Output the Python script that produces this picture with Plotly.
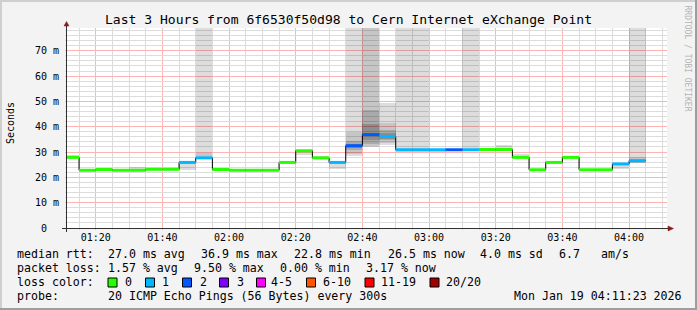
import math
import plotly.graph_objects as go
import pandas as pd
import numpy as np

# ---------------- data ----------------
# interval boundaries (5-minute steps; first one is partial)
bounds = [
    "2026-01-19 01:11:23", "2026-01-19 01:15:00", "2026-01-19 01:20:00", "2026-01-19 01:25:00",
    "2026-01-19 01:30:00", "2026-01-19 01:35:00", "2026-01-19 01:40:00", "2026-01-19 01:45:00",
    "2026-01-19 01:50:00", "2026-01-19 01:55:00", "2026-01-19 02:00:00", "2026-01-19 02:05:00",
    "2026-01-19 02:10:00", "2026-01-19 02:15:00", "2026-01-19 02:20:00", "2026-01-19 02:25:00",
    "2026-01-19 02:30:00", "2026-01-19 02:35:00", "2026-01-19 02:40:00", "2026-01-19 02:45:00",
    "2026-01-19 02:50:00", "2026-01-19 02:55:00", "2026-01-19 03:00:00", "2026-01-19 03:05:00",
    "2026-01-19 03:10:00", "2026-01-19 03:15:00", "2026-01-19 03:20:00", "2026-01-19 03:25:00",
    "2026-01-19 03:30:00", "2026-01-19 03:35:00", "2026-01-19 03:40:00", "2026-01-19 03:45:00",
    "2026-01-19 03:50:00", "2026-01-19 03:55:00", "2026-01-19 04:00:00", "2026-01-19 04:05:00",
]
# median RTT per interval (ms)
median_ms = [27.9, 22.8, 23.1, 22.8, 22.8, 23.2, 23.2, 25.9, 27.7, 23.1,
             22.8, 22.8, 22.8, 25.9, 30.5, 27.7, 25.9, 32.5, 36.9, 36.2,
             30.9, 30.9, 30.9, 30.9, 30.9, 31.0, 31.0, 27.9, 23.0, 25.9,
             27.9, 23.0, 23.0, 25.3, 26.6]
# lost pings (of 20) per interval
loss_count = [0, 0, 0, 0, 0, 0, 0, 1, 1, 0,
              0, 0, 0, 0, 0, 0, 1, 2, 2, 1,
              1, 1, 1, 2, 1, 0, 0, 0, 0, 0,
              0, 0, 0, 1, 1]
N = None
HI = 200.0  # beyond chart top
# smoke layers (outer -> inner), ms
smoke1_lo = [27.6, 22.5, 22.9, 22.6, 22.6, 23.0, 23.0, 23.0, 27.3, 22.8,
             22.5, 22.5, 22.5, 25.6, 28.9, 27.2, 23.3, 28.5, 32.0, 32.9,
             30.2, 30.2, 30.0, 30.5, 30.5, 30.5, 30.5, 27.6, 22.8, 25.7,
             27.6, 22.8, 22.8, 23.4, 25.6]
smoke1_hi = [29.0, 23.1, 23.4, 23.2, 23.9, 23.5, 23.5, 26.4, HI, 23.8,
             23.5, 23.0, 23.0, 26.2, 30.9, 28.4, 26.2, HI, HI, 49.2,
             HI, HI, 31.2, 31.4, HI, 31.7, 32.9, 29.2, 23.3, 26.2,
             28.5, 23.2, 23.2, 25.7, HI]
smoke2_lo = [N, N, N, N, N, N, N, N, 27.4, N,
             N, N, N, N, N, N, N, 29.2, 32.4, 33.7,
             N, N, N, N, N, N, N, N, N, N,
             N, N, N, N, 25.6]
smoke2_hi = [N, N, N, N, N, N, N, N, 29.6, N,
             N, N, N, N, N, N, N, 38.1, HI, 41.5,
             N, N, N, N, N, N, N, N, N, N,
             N, N, N, N, 27.9]
smoke3_lo = [N] * 17 + [30.7, 33.2, 34.7] + [N] * 15
smoke3_hi = [N] * 17 + [34.2, 46.7, 38.7] + [N] * 15
smoke4_lo = [N] * 17 + [31.7, 34.7, 35.2] + [N] * 15
smoke4_hi = [N] * 17 + [33.2, 41.2, 37.7] + [N] * 15

loss_labels = ["0", "1", "2", "3", "4-5", "6-10", "11-19", "20/20"]
loss_palette = ["#26ff00", "#00b8ff", "#0059ff", "#7e00ff", "#ff00ff", "#ff5500", "#ff0000", "#a00000"]
loss_bins = [0, 1, 2, 3, 5, 10, 19, 20]

title_text = "Last 3 Hours from 6f6530f50d98 to Cern Internet eXchange Point"
ytick_vals = [0, 10, 20, 30, 40, 50, 60, 70]
ytick_text = ["0\u00a0\u00a0", "10 m", "20 m", "30 m", "40 m", "50 m", "60 m", "70 m"]
xtick_vals = ["2026-01-19 01:20:00", "2026-01-19 01:40:00", "2026-01-19 02:00:00",
              "2026-01-19 02:20:00", "2026-01-19 02:40:00", "2026-01-19 03:00:00",
              "2026-01-19 03:20:00", "2026-01-19 03:40:00", "2026-01-19 04:00:00"]
xtick_text = ["01:20", "01:40", "02:00", "02:20", "02:40", "03:00", "03:20", "03:40", "04:00"]
stats_rtt = ["median rtt:", "27.0 ms avg", "36.9 ms max", "22.8 ms min", "26.5 ms now", "4.0 ms sd", "6.7", "am/s"]
stats_loss = ["packet loss:", "1.57 % avg", "9.50 % max", "0.00 % min", "3.17 % now"]
probe_text = ["probe:", "20 ICMP Echo Pings (56 Bytes) every 300s", "Mon Jan 19 04:11:23 2026"]
x_start, x_end = "2026-01-19 01:11:23", "2026-01-19 04:11:23"
y_max = 79

# ---------------- layout geometry ----------------
W, H = 697, 310
L, R, T, B = 67, 30, 28, 82
PW, PH = W - L - R, H - T - B


def px(xp):
    return (xp - L) / PW


def py(yp):
    return (H - B - yp) / PH


MONO = "DejaVu Sans Mono"

tb = pd.to_datetime(bounds)
starts, ends = tb[:-1], tb[1:]
centers = starts + (ends - starts) / 2
widths = [(e - s).total_seconds() * 1000 for s, e in zip(starts, ends)]
t0, t1 = pd.Timestamp(x_start), pd.Timestamp(x_end)
span = (t1 - t0).total_seconds()

fig = go.Figure()

layers = [(smoke1_lo, smoke1_hi, "rgba(0,0,0,0.135)"),
          (smoke2_lo, smoke2_hi, "rgba(0,0,0,0.10)"),
          (smoke3_lo, smoke3_hi, "rgba(0,0,0,0.14)"),
          (smoke4_lo, smoke4_hi, "rgba(0,0,0,0.17)")]
for lo, hi, col in layers:
    lo_a = np.array([np.nan if v is None else v for v in lo], dtype=float)
    hi_a = np.array([np.nan if v is None else v for v in hi], dtype=float)
    fig.add_trace(go.Bar(x=list(centers), y=hi_a - lo_a, base=lo_a, width=widths,
                         marker=dict(color=col, line=dict(width=0)),
                         hoverinfo="skip", showlegend=False))

# black step line
fig.add_trace(go.Scatter(x=list(tb), y=median_ms + [median_ms[-1]], mode="lines",
                         line=dict(color="#000000", width=1, shape="hv"),
                         hoverinfo="skip", showlegend=False))


def loss_color(n):
    for b, c in zip(loss_bins, loss_palette):
        if n <= b:
            return c
    return loss_palette[-1]


for col in loss_palette:
    xs, ys = [], []
    for s, e, m, n in zip(starts, ends, median_ms, loss_count):
        if loss_color(n) == col:
            xs += [s, e, None]
            ys += [m, m, None]
    if xs:
        fig.add_trace(go.Scatter(x=xs, y=ys, mode="lines", line=dict(color=col, width=3),
                                 hoverinfo="skip", showlegend=False))

GRID_MINOR = "#dcdcdc"
GRID_MAJOR = "#ffb4b4"

fig.update_layout(
    width=W, height=H, autosize=False,
    margin=dict(l=L, r=R, t=T, b=B, pad=0),
    paper_bgcolor="#f3f3f3", plot_bgcolor="#ffffff",
    barmode="overlay", bargap=0,
    font=dict(family=MONO, size=10, color="#000000"),
    xaxis=dict(type="date", range=[x_start, x_end], tickmode="array",
               tickvals=xtick_vals, ticktext=xtick_text, ticks="", ticklabelstandoff=2,
               tickfont=dict(family=MONO, size=10),
               showgrid=False, showline=False, zeroline=False, fixedrange=True),
    yaxis=dict(range=[0, y_max], tickmode="array", tickvals=ytick_vals, ticktext=ytick_text,
               ticks="", ticklabelstandoff=7, tickfont=dict(family=MONO, size=10),
               showgrid=False, showline=False, zeroline=False, fixedrange=True),
)

AX = "#303030"
ARROW = "#8b1a1a"
shapes = []


def crisp(v):
    return math.floor(v) + 0.5


# grid (pixel-snapped lines)
plot_bottom = H - B
minor_v, major_v = [], []
for tm in pd.date_range("2026-01-19 01:15:00", "2026-01-19 04:10:00", freq="5min"):
    xp = crisp(L + (tm - t0).total_seconds() / span * PW)
    (major_v if tm.minute % 20 == 0 else minor_v).append(xp)
minor_h, major_h = [], []
for v in range(2, y_max, 2):
    yp = crisp(plot_bottom - v / y_max * PH)
    (major_h if v % 10 == 0 else minor_h).append(yp)

for xs_, col in ((minor_v, GRID_MINOR), (major_v, GRID_MAJOR)):
    for xc in xs_:
        shapes.append(dict(type="line", xref="paper", yref="paper", x0=px(xc), x1=px(xc),
                           y0=py(plot_bottom + 2), y1=1, layer="below",
                           line=dict(color=col, width=1)))
for ys_, col in ((minor_h, GRID_MINOR), (major_h, GRID_MAJOR)):
    for yc in ys_:
        shapes.append(dict(type="line", xref="paper", yref="paper", x0=px(L - 2), x1=1,
                           y0=py(yc), y1=py(yc), layer="below",
                           line=dict(color=col, width=1)))

shapes += [
    # frame
    dict(type="rect", xref="paper", yref="paper", x0=px(0), x1=px(697), y0=py(0), y1=py(2),
         fillcolor="#cfcfcf", line=dict(width=0), layer="below"),
    dict(type="rect", xref="paper", yref="paper", x0=px(0), x1=px(2), y0=py(0), y1=py(310),
         fillcolor="#cfcfcf", line=dict(width=0), layer="below"),
    dict(type="rect", xref="paper", yref="paper", x0=px(0), x1=px(697), y0=py(308), y1=py(310),
         fillcolor="#9e9e9e", line=dict(width=0), layer="below"),
    dict(type="rect", xref="paper", yref="paper", x0=px(695), x1=px(697), y0=py(0), y1=py(310),
         fillcolor="#9e9e9e", line=dict(width=0), layer="below"),
    # axes
    dict(type="line", xref="paper", yref="paper", x0=px(62), x1=px(669), y0=py(228.5), y1=py(228.5),
         line=dict(color=AX, width=1)),
    dict(type="line", xref="paper", yref="paper", x0=px(66.5), x1=px(66.5), y0=py(232), y1=py(25),
         line=dict(color=AX, width=1)),
    dict(type="path", xref="paper", yref="paper",
         path=f"M {px(668)},{py(226)} L {px(668)},{py(231)} L {px(673.5)},{py(228.5)} Z",
         fillcolor=ARROW, line=dict(color=ARROW, width=0.5)),
    dict(type="path", xref="paper", yref="paper",
         path=f"M {px(64)},{py(26)} L {px(69)},{py(26)} L {px(66.5)},{py(21.5)} Z",
         fillcolor=ARROW, line=dict(color=ARROW, width=0.5)),
]

# legend colour squares
sq_left = [108, 145.5, 182.5, 219.5, 256.5, 306.5, 365, 430]
lab_left = [124, 161, 198.5, 235.5, 270, 321.5, 380, 445]
for xl, col in zip(sq_left, loss_palette):
    shapes.append(dict(type="rect", xref="paper", yref="paper",
                       x0=px(xl), x1=px(xl + 9), y0=py(287), y1=py(278),
                       fillcolor=col, line=dict(color="#000000", width=1)))
fig.update_layout(shapes=shapes)

ann = []


def txt(x, y, s, size=11.6, anchor="left", color="#000000", angle=0, family=MONO):
    ann.append(dict(xref="paper", yref="paper", x=px(x), y=py(y), text=s, showarrow=False,
                    xanchor=anchor, yanchor="middle", borderpad=0, textangle=angle,
                    font=dict(family=family, size=size, color=color)))


txt(348.5, 19, title_text, size=13.05, anchor="center")
txt(10.5, 123.5, "Seconds", size=10, anchor="center", angle=-90)
txt(687.5, 58, "RRDTOOL / TOBI OETIKER", size=8, anchor="center", color="#b4b4b4", angle=90)

rtt_x = [16, 107.3, 200, 292.5, 386.5, 479.3, 558.3, 600]
for x, s in zip(rtt_x, stats_rtt):
    txt(x, 254.3, s)
loss_x = [16, 107.3, 193.3, 279, 365]
for x, s in zip(loss_x, stats_loss):
    txt(x, 268.3, s)
txt(16, 282.3, "loss color:")
for x, s in zip(lab_left, loss_labels):
    txt(x, 282.3, s)
probe_x = [16, 107.3, 512.7]
for x, s in zip(probe_x, probe_text):
    txt(x, 296, s)

fig.update_layout(annotations=ann)
fig.write_html("out.html")
